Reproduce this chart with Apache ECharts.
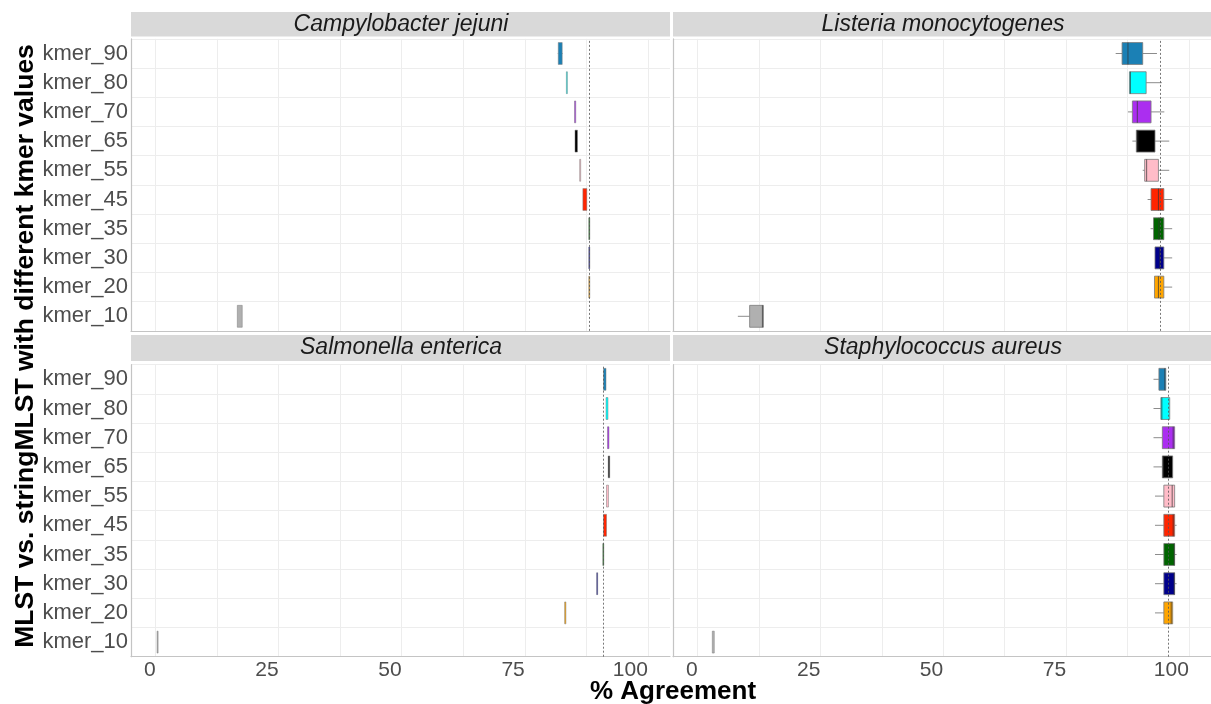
<!DOCTYPE html>
<html>
<head>
<meta charset="utf-8">
<script src="https://cdn.jsdelivr.net/npm/echarts@6/dist/echarts.min.js"></script>
<style>
html, body { margin: 0; padding: 0; background: #fff; }
#chart { width: 1211px; height: 704px; }
</style>
</head>
<body>
<div id="chart"></div>
<script>
// categories, bottom to top
var kmers = ['kmer_10', 'kmer_20', 'kmer_30', 'kmer_35', 'kmer_45', 'kmer_55', 'kmer_65', 'kmer_70', 'kmer_80', 'kmer_90'];
var kmerColors = ['#b0b0b0', '#ffa500', '#00008b', '#006400', '#ff2500', '#ffbcc8', '#000000', '#ab2ef0', '#00ffff', '#1b80b5'];

var speciesNames = ['Campylobacter jejuni', 'Listeria monocytogenes', 'Salmonella enterica', 'Staphylococcus aureus'];

// [min, Q1, median, Q3, max] per kmer (kmer_10 ... kmer_90)
var campylobacter = [
    [16.6, 16.6, 17.1, 17.6, 17.6],
    [88.0, 88.0, 88.0, 88.05, 88.05],
    [88.0, 88.0, 88.0, 88.05, 88.05],
    [88.0, 88.0, 88.0, 88.05, 88.05],
    [86.8, 86.8, 87.2, 87.6, 87.6],
    [86.15, 86.15, 86.2, 86.3, 86.3],
    [85.2, 85.2, 85.5, 85.7, 85.7],
    [85.1, 85.1, 85.15, 85.35, 85.35],
    [83.45, 83.45, 83.5, 83.6, 83.6],
    [81.7, 81.8, 82.2, 82.6, 82.7]
];
var listeria = [
    [8.2, 10.6, 13.2, 13.4, 13.4],
    [93.0, 93.0, 93.8, 94.9, 96.6],
    [93.1, 93.1, 94.1, 94.9, 96.6],
    [92.2, 92.8, 93.9, 94.9, 96.6],
    [91.6, 92.3, 93.8, 94.9, 96.6],
    [90.6, 91.0, 91.4, 93.8, 96.0],
    [88.5, 89.3, 89.6, 93.1, 96.0],
    [87.6, 88.5, 89.5, 92.3, 95.0],
    [87.9, 87.9, 88.1, 91.3, 94.5],
    [85.1, 86.4, 87.6, 90.6, 93.5]
];
var salmonella = [
    [0.3, 0.3, 0.4, 0.5, 0.5],
    [83.1, 83.1, 83.2, 83.35, 83.35],
    [89.6, 89.6, 89.7, 89.8, 89.8],
    [90.85, 90.85, 90.9, 91.0, 91.0],
    [91.0, 91.0, 91.3, 91.6, 91.6],
    [91.6, 91.6, 91.8, 92.0, 92.0],
    [91.95, 91.95, 92.1, 92.25, 92.25],
    [91.8, 91.8, 91.95, 92.1, 92.1],
    [91.5, 91.5, 91.7, 91.9, 91.9],
    [91.0, 91.0, 91.2, 91.5, 91.5]
];
var staphylococcus = [
    [3.0, 3.0, 3.2, 3.4, 3.4],
    [93.1, 94.9, 96.4, 96.7, 96.7],
    [93.1, 94.9, 97.0, 97.1, 97.5],
    [93.1, 94.9, 97.0, 97.1, 97.5],
    [93.1, 94.9, 96.8, 97.1, 97.5],
    [93.1, 94.9, 96.6, 97.1, 97.1],
    [92.8, 94.6, 94.8, 96.7, 96.7],
    [92.8, 94.6, 96.8, 97.1, 97.1],
    [92.8, 94.3, 94.5, 96.1, 96.1],
    [92.8, 93.9, 95.1, 95.3, 95.3]
];
var speciesData = [campylobacter, listeria, salmonella, staphylococcus];

// dotted reference line per panel
var refLines = [88.0, 94.1, 90.9, 95.7];

var xLabelValues = [0, 25, 50, 75, 100];
var xGridValues = [0, 12.5, 25, 37.5, 50, 62.5, 75, 87.5, 100];

var font = '"Liberation Sans", Arial, sans-serif';
var panelLeft = [131, 673, 131, 673];
var panelTop = [38.9, 38.9, 364.7, 364.7];
var panelW = 539;
var panelH = 292;

function renderBox(params, api) {
    var cat = api.value(0);
    var y = api.coord([0, cat])[1];
    var h = api.size([0, 1])[1] * 0.75;
    var pMin = api.coord([api.value(1), cat])[0];
    var pQ1 = api.coord([api.value(2), cat])[0];
    var pMed = api.coord([api.value(3), cat])[0];
    var pQ3 = api.coord([api.value(4), cat])[0];
    var pMax = api.coord([api.value(5), cat])[0];
    var color = kmerColors[cat];
    var w = Math.max(pQ3 - pQ1, 1);
    var thin = w < 5;
    var kids = [
        { type: 'line', shape: { x1: pMin, y1: y, x2: pQ1, y2: y }, style: { stroke: '#8c8c8c', lineWidth: 1 } },
        { type: 'line', shape: { x1: pQ3, y1: y, x2: pMax, y2: y }, style: { stroke: '#8c8c8c', lineWidth: 1 } },
        { type: 'rect', shape: { x: pQ1, y: y - h / 2, width: w, height: h },
          style: { fill: color, stroke: '#7a7a7a', lineWidth: thin ? 0.5 : 0.8 } }
    ];
    if (!thin) {
        kids.push({ type: 'line', shape: { x1: pMed, y1: y - h / 2, x2: pMed, y2: y + h / 2 },
                    style: { stroke: '#333', lineWidth: 1, opacity: 0.7 } });
    }
    return { type: 'group', children: kids };
}

var grids = [], xAxes = [], yAxes = [], series = [], graphics = [];

for (var i = 0; i < 4; i++) {
    var bottomRow = i >= 2;
    var leftCol = i % 2 === 0;
    grids.push({ left: panelLeft[i], top: panelTop[i], width: panelW, height: panelH });
    xAxes.push({
        type: 'value', gridIndex: i, min: -5, max: 104.5,
        axisLine: { show: true, onZero: false, lineStyle: { color: '#c4c4c4', width: 1.2 } },
        axisTick: { show: false, customValues: xGridValues },
        axisLabel: {
            show: bottomRow, customValues: xLabelValues, align: 'right', margin: 3,
            color: '#4d4d4d', fontSize: 21, fontFamily: font
        },
        splitLine: { show: true, lineStyle: { color: '#ededed', width: 1 } }
    });
    yAxes.push({
        type: 'category', gridIndex: i, data: kmers,
        axisLine: { show: true, onZero: false, lineStyle: { color: '#c4c4c4', width: 1.2 } },
        axisTick: { show: false },
        axisLabel: { show: leftCol, margin: 3, color: '#4d4d4d', fontSize: 22, fontFamily: font },
        splitLine: { show: true, lineStyle: { color: '#ededed', width: 1 } }
    });
    series.push({
        type: 'custom', xAxisIndex: i, yAxisIndex: i,
        renderItem: renderBox,
        encode: { x: [1, 2, 3, 4, 5], y: 0 },
        data: speciesData[i].map(function (s, k) { return [k].concat(s); }),
        markLine: {
            silent: true, symbol: 'none', label: { show: false },
            lineStyle: { color: '#555', type: [2, 2], width: 0.8 },
            data: [{ xAxis: refLines[i] }]
        }
    });

    // facet strips
    var stripY = bottomRow ? 335 : 12;
    var stripH = bottomRow ? 26 : 24.5;
    graphics.push({
        type: 'rect', z: 10,
        shape: { x: panelLeft[i], y: stripY, width: leftCol ? 539 : 538, height: stripH },
        style: { fill: '#d9d9d9' }
    });
    graphics.push({
        type: 'text', z: 11,
        style: {
            text: speciesNames[i], x: panelLeft[i] + 270, y: stripY + stripH / 2,
            textAlign: 'center', textVerticalAlign: 'middle',
            font: 'italic 23px ' + font, fill: '#1a1a1a'
        }
    });
}

graphics.push({
    type: 'text', rotation: Math.PI / 2, x: 26, y: 346,
    style: {
        text: 'MLST vs. stringMLST with different kmer values', x: 0, y: 0,
        textAlign: 'center', textVerticalAlign: 'middle',
        font: 'bold 26.5px ' + font, fill: '#000'
    }
});
graphics.push({
    type: 'text',
    style: {
        text: '% Agreement', x: 673, y: 692,
        textAlign: 'center', textVerticalAlign: 'middle',
        font: 'bold 26px ' + font, fill: '#000'
    }
});

var chart = echarts.init(document.getElementById('chart'));
chart.setOption({
    animation: false,
    backgroundColor: '#fff',
    grid: grids,
    xAxis: xAxes,
    yAxis: yAxes,
    series: series,
    graphic: graphics
});
</script>
</body>
</html>
